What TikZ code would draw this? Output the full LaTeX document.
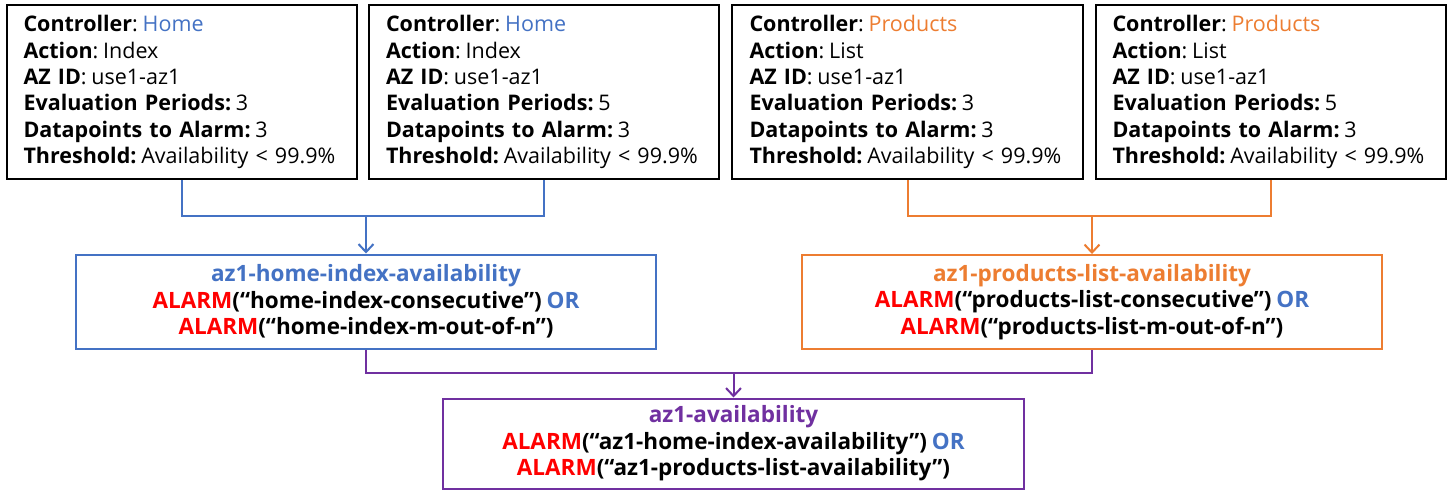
\documentclass[tikz,border=0pt]{standalone}
\usepackage{fontspec}
\setmainfont{Open Sans}
\usetikzlibrary{arrows.meta}
\definecolor{cblue}{HTML}{4472C4}
\definecolor{corange}{HTML}{ED7D31}
\definecolor{cpurple}{HTML}{7030A0}
\definecolor{cred}{HTML}{FF0000}
\tikzset{
  infobox/.style={draw=black,line width=2pt,minimum height=174pt,text width=316pt,inner xsep=17pt,align=left,anchor=center,
    font=\fontsize{21.5pt}{26.3pt}\selectfont},
  alarmbox/.style={draw=#1,line width=2pt,minimum height=94pt,text width=560pt,align=center,anchor=center,
    font=\fontsize{22.5pt}{26.5pt}\selectfont\bfseries},
  conn/.style={draw=#1,line width=2pt},
  arr/.style={draw=#1,line width=2pt,-{Straight Barb[length=8pt,width=15pt]}},
}
\newcommand{\alm}{\textcolor{cred}{ALARM}}
\newcommand{\cs}{\hspace{0.22em}}
\begin{document}
\begin{tikzpicture}[x=1pt,y=-1pt]
\useasboundingbox[fill=white] (0,0) rectangle (1449,491);
\node[infobox,minimum width=349pt] (b1) at (181.5,92) {\textbf{Controller}:\cs\textcolor{cblue}{Home}\\\textbf{Action}:\cs Index\\\textbf{AZ ID}:\cs use1-az1\\\textbf{Evaluation Periods:}\cs 3\\\textbf{Datapoints to Alarm:}\cs 3\\\textbf{Threshold:}\cs Availability < 99.9\%};
\node[infobox,minimum width=350pt] (b2) at (544,92) {\textbf{Controller}:\cs\textcolor{cblue}{Home}\\\textbf{Action}:\cs Index\\\textbf{AZ ID}:\cs use1-az1\\\textbf{Evaluation Periods:}\cs 5\\\textbf{Datapoints to Alarm:}\cs 3\\\textbf{Threshold:}\cs Availability < 99.9\%};
\node[infobox,minimum width=351pt] (b3) at (907.5,92) {\textbf{Controller}:\cs\textcolor{corange}{Products}\\\textbf{Action}:\cs List\\\textbf{AZ ID}:\cs use1-az1\\\textbf{Evaluation Periods:}\cs 3\\\textbf{Datapoints to Alarm:}\cs 3\\\textbf{Threshold:}\cs Availability < 99.9\%};
\node[infobox,minimum width=349pt] (b4) at (1270.5,92) {\textbf{Controller}:\cs\textcolor{corange}{Products}\\\textbf{Action}:\cs List\\\textbf{AZ ID}:\cs use1-az1\\\textbf{Evaluation Periods:}\cs 5\\\textbf{Datapoints to Alarm:}\cs 3\\\textbf{Threshold:}\cs Availability < 99.9\%};
\node[alarmbox=cblue,minimum width=580pt] (ab) at (366,301.5) {\textcolor{cblue}{az1-home-index-availability}\\\alm(“home-index-consecutive”)\cs\textcolor{cblue}{OR}\\\alm(“home-index-m-out-of-n”)};
\node[alarmbox=corange,minimum width=580pt] (ao) at (1092,302) {\textcolor{corange}{az1-products-list-availability}\\\alm(“products-list-consecutive”)\cs\textcolor{cblue}{OR}\\\alm(“products-list-m-out-of-n”)};
\node[alarmbox=cpurple,minimum width=581pt,minimum height=90pt] (ap) at (733.5,443.5) {\textcolor{cpurple}{az1-availability}\\\alm(“az1-home-index-availability”)\cs\textcolor{cblue}{OR}\\\alm(“az1-products-list-availability”)};
\coordinate (jb) at (366,216);
\coordinate (jo) at (1092,216);
\coordinate (jp) at (733.5,373);
\draw[conn=cblue] (b1.south) |- (jb) -| (b2.south);
\draw[arr=cblue] (jb) -- (ab.north);
\draw[conn=corange] (b3.south) |- (jo) -| (b4.south);
\draw[arr=corange] (jo) -- (ao.north);
\draw[conn=cpurple] (ab.south) |- (jp) -| (ao.south);
\draw[arr=cpurple] (jp) -- (ap.north);
\end{tikzpicture}
\end{document}
